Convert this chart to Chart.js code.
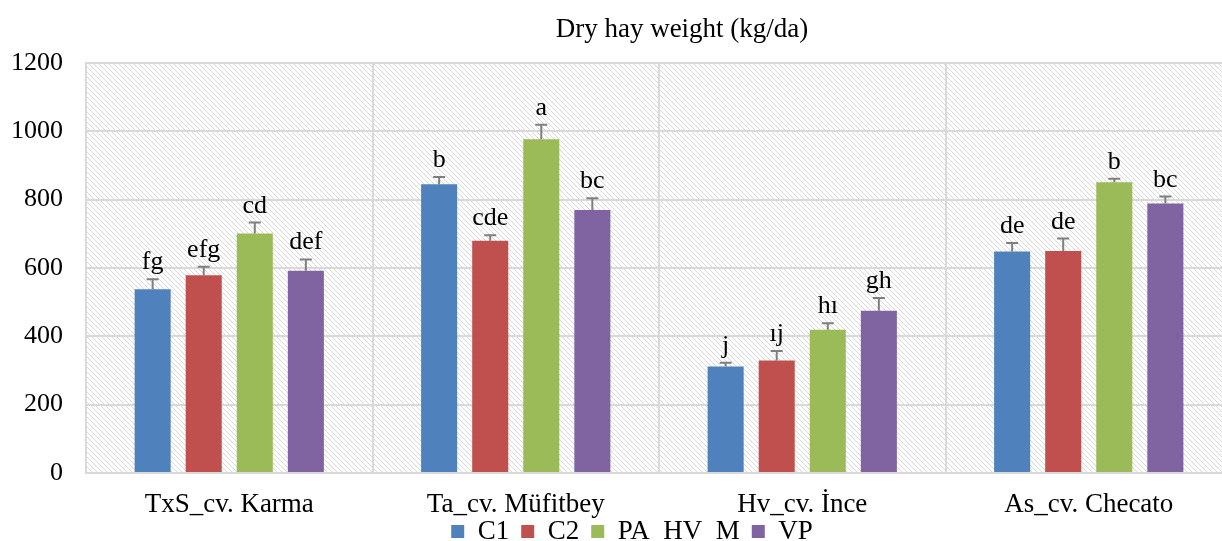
<!DOCTYPE html>
<html lang="en">
<head>
  <meta charset="UTF-8" />
  <title>Dry hay weight</title>
  <script src="https://cdn.jsdelivr.net/npm/chart.js"></script>
  <style>
    html, body { margin: 0; padding: 0; background: #fff; overflow: hidden; }
    #wrap { width: 1260px; height: 541px; }
  </style>
</head>
<body>
  <div id="wrap"><canvas id="hayChart"></canvas></div>

  <script>
    // data
    const categories = ['TxS_cv. Karma', 'Ta_cv. Müfitbey', 'Hv_cv. İnce', 'As_cv. Checato'];
    const seriesNames = ['C1', 'C2', 'PA  HV  M', 'VP'];
    const c1 = [538, 845, 312, 648];
    const c2 = [579, 680, 329, 650];
    const pa = [701, 977, 419, 851];
    const vp = [592, 770, 475, 789];
    const c1Err = [29, 21, 11, 25];
    const c2Err = [25, 16, 28, 36];
    const paErr = [32, 42, 19, 10];
    const vpErr = [33, 34, 37, 20];
    const c1Letters = ['fg', 'b', 'j', 'de'];
    const c2Letters = ['efg', 'cde', 'ıj', 'de'];
    const paLetters = ['cd', 'a', 'hı', 'b'];
    const vpLetters = ['def', 'bc', 'gh', 'bc'];
    const yTicks = [0, 200, 400, 600, 800, 1000, 1200];

    const colors = ['#4F81BD', '#C0504D', '#9BBB59', '#8064A2'];
    const serif = "'Liberation Serif', 'Times New Roman', serif";

    // light diagonal hatch for the plot background
    function makeHatch() {
      const t = document.createElement('canvas');
      t.width = 5; t.height = 5;
      const g = t.getContext('2d');
      g.fillStyle = '#ffffff';
      g.fillRect(0, 0, 5, 5);
      g.fillStyle = '#d9d9d9';
      for (let i = 0; i < 5; i++) g.fillRect(i, i, 1, 1);
      return t;
    }

    const hatchBg = {
      id: 'hatchBg',
      beforeDraw(chart) {
        const { ctx, chartArea: a } = chart;
        ctx.save();
        ctx.fillStyle = ctx.createPattern(makeHatch(), 'repeat');
        ctx.fillRect(a.left, a.top, a.right - a.left, a.bottom - a.top);
        ctx.restore();
      }
    };

    // legend: short box, nudged right to sit where the original one does
    const tightLegend = {
      id: 'tightLegend',
      afterInit(chart) {
        const lg = chart.legend;
        const fit = lg.fit.bind(lg);
        const draw = lg.draw.bind(lg);
        lg.fit = function () { fit(); this.height = 35; };
        lg.draw = function (area) {
          this.ctx.save();
          this.ctx.translate(16, 0);
          draw(area);
          this.ctx.restore();
        };
      }
    };

    const titleText = {
      id: 'titleText',
      afterDraw(chart) {
        const ctx = chart.ctx;
        ctx.save();
        ctx.font = '27px ' + serif;
        ctx.fillStyle = '#000';
        ctx.textAlign = 'center';
        ctx.textBaseline = 'middle';
        ctx.fillText('Dry hay weight (kg/da)', 682, 30);
        ctx.restore();
      }
    };

    const errorBars = {
      id: 'errorBars',
      afterDatasetsDraw(chart) {
        const ctx = chart.ctx;
        const y = chart.scales.y;
        chart.data.datasets.forEach((ds, di) => {
          const meta = chart.getDatasetMeta(di);
          meta.data.forEach((bar, i) => {
            const top = y.getPixelForValue(ds.data[i] + ds.err[i]);
            ctx.save();
            ctx.strokeStyle = '#7f7f7f';
            ctx.lineWidth = 2;
            ctx.beginPath();
            ctx.moveTo(bar.x, bar.y);
            ctx.lineTo(bar.x, top);
            ctx.moveTo(bar.x - 6, top);
            ctx.lineTo(bar.x + 6, top);
            ctx.stroke();
            ctx.font = '26px ' + serif;
            ctx.fillStyle = '#000';
            ctx.textAlign = 'center';
            ctx.textBaseline = 'alphabetic';
            ctx.fillText(ds.letters[i], bar.x, top - 10);
            ctx.restore();
          });
        });
      }
    };

    const values = [c1, c2, pa, vp];
    const errs = [c1Err, c2Err, paErr, vpErr];
    const letters = [c1Letters, c2Letters, paLetters, vpLetters];

    new Chart(document.getElementById('hayChart'), {
      type: 'bar',
      data: {
        labels: categories,
        datasets: seriesNames.map((name, k) => ({
          label: name,
          data: values[k],
          err: errs[k],
          letters: letters[k],
          backgroundColor: colors[k],
          categoryPercentage: 0.713,
          barPercentage: 0.706
        }))
      },
      options: {
        responsive: true,
        maintainAspectRatio: false,
        animation: false,
        layout: { padding: { top: 63, right: 28, left: 0, bottom: 0 } },
        plugins: {
          title: { display: false },
          tooltip: { enabled: false },
          legend: {
            position: 'bottom',
            labels: {
              boxWidth: 13,
              boxHeight: 13,
              padding: 12,
              color: '#000',
              font: { family: serif, size: 27 }
            }
          }
        },
        scales: {
          x: {
            afterFit(scale) {
              scale.height = 33;
              // labels hang below the short axis box, so don't clip them
              scale._computeLabelArea = () => undefined;
            },
            grid: { offset: true, color: '#d9d9d9', lineWidth: 2, drawTicks: false },
            border: { color: '#d9d9d9', width: 2 },
            ticks: { color: '#000', padding: 16, maxRotation: 0, autoSkip: false, font: { family: serif, size: 27 } }
          },
          y: {
            min: 0,
            max: 1200,
            afterFit(scale) { scale.width = 86; },
            afterBuildTicks(scale) { scale.ticks = yTicks.map(v => ({ value: v })); },
            grid: { color: '#d9d9d9', lineWidth: 2, drawTicks: false },
            border: { color: '#d9d9d9', width: 2 },
            ticks: {
              color: '#000',
              padding: 23,
              font: { family: serif, size: 26 },
              callback: v => String(v)
            }
          }
        }
      },
      plugins: [hatchBg, tightLegend, errorBars, titleText]
    });
  </script>
</body>
</html>
